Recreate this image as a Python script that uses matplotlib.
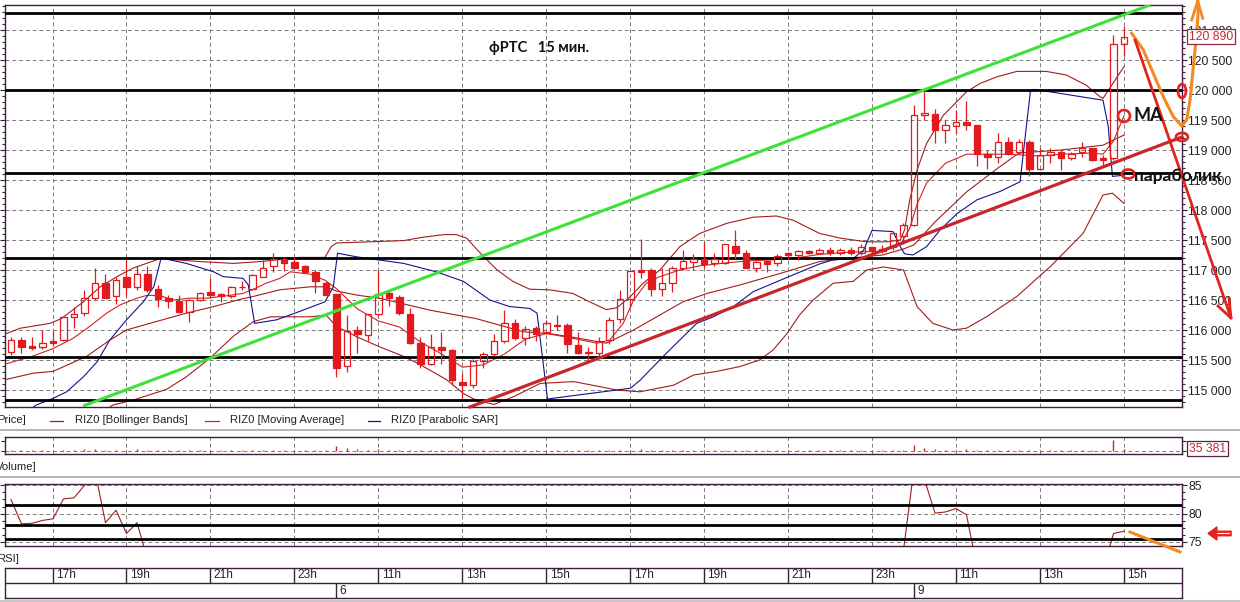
import numpy as np
import matplotlib
matplotlib.use('Agg')
import matplotlib.pyplot as plt
from matplotlib import font_manager as fm
from matplotlib.patches import Ellipse, FancyArrow
from matplotlib.lines import Line2D
from matplotlib.ticker import FixedLocator, MultipleLocator, FuncFormatter

# ---- 15-minute bars of RIZ0 (bar 0 = day 5, 16:00) ----
opens = [115640, 115840, 115740, 115720, 115820, 115830, 116210, 116280, 116530, 116780,
         116560, 116880, 116710, 116930, 116690, 116530, 116490, 116300, 116500, 116630,
         116600, 116570, 116720, 116680, 116890, 117070, 117190, 117130, 117070, 116970,
         116780, 116600, 115400, 116000, 115910, 116260, 116610, 116550, 116270, 115780,
         115430, 115710, 115670, 115140, 115090, 115480, 115600, 115810, 116110, 115860,
         116040, 115970, 116090, 116090, 115750, 115630, 115620, 115830, 116180, 116510,
         117000, 117000, 116680, 116780, 117030, 117140, 117190, 117120, 117110, 117400,
         117290, 117040, 117150, 117110, 117280, 117250, 117310, 117290, 117330, 117290,
         117330, 117290, 117380, 117350, 117390, 117570, 117750, 119590, 119600, 119340,
         119400, 119470, 119420, 118940, 118890, 119140, 118960, 119140, 118680, 118920,
         118960, 118860, 118970, 119030, 118860, 118860, 120770]
highs = [115880, 115880, 115890, 116000, 115990, 116230, 116390, 116670, 117030, 116940,
         116890, 117190, 117070, 117060, 116750, 116580, 116580, 116510, 116640, 116860,
         116620, 116730, 116810, 116940, 117170, 117290, 117220, 117210, 117080, 117000,
         116810, 116600, 116250, 116070, 116260, 117000, 116670, 116580, 116360, 115880,
         115940, 115970, 115680, 115280, 115510, 115640, 115940, 116340, 116190, 116060,
         116070, 116170, 116250, 116120, 115960, 115720, 115890, 116220, 116670, 116980,
         117510, 117030, 117030, 117070, 117330, 117270, 117470, 117280, 117440, 117660,
         117330, 117150, 117170, 117260, 117300, 117330, 117340, 117360, 117390, 117360,
         117380, 117440, 117390, 117420, 117640, 117780, 119750, 120000, 119680, 119500,
         119670, 119810, 119420, 119000, 119280, 119220, 119190, 119160, 119030, 119030,
         119000, 118970, 119140, 119040, 118920, 120920, 121060]
lows = [115580, 115610, 115670, 115680, 115730, 115820, 116040, 116230, 116500, 116540,
        116440, 116570, 116670, 116640, 116380, 116360, 116280, 116130, 116490, 116530,
        116470, 116530, 116670, 116670, 116880, 116970, 116990, 117040, 116960, 116620,
        116580, 115220, 115300, 115620, 115810, 116230, 116400, 116250, 115770, 115360,
        115420, 115440, 115080, 114860, 115030, 115360, 115560, 115790, 115840, 115750,
        115810, 115940, 116000, 115610, 115600, 115470, 115560, 115770, 116120, 116390,
        116860, 116570, 116570, 116640, 117000, 117000, 117030, 117060, 117100, 117180,
        117040, 116970, 116970, 117060, 117190, 117170, 117270, 117260, 117250, 117250,
        117250, 117250, 117250, 117280, 117330, 117440, 117740, 119500, 119120, 119120,
        119280, 119340, 118730, 118680, 118780, 118920, 118940, 118570, 118660, 118780,
        118670, 118830, 118890, 118810, 118750, 118840, 120570]
closes = [115840, 115710, 115700, 115790, 115790, 116210, 116260, 116530, 116780, 116540,
          116840, 116710, 116930, 116670, 116510, 116480, 116300, 116500, 116610, 116580,
          116560, 116710, 116710, 116920, 117040, 117190, 117120, 117040, 116970, 116810,
          116590, 115370, 115990, 115930, 116260, 116600, 116540, 116280, 115780, 115430,
          115720, 115660, 115160, 115090, 115480, 115600, 115810, 116110, 115860, 116010,
          115940, 116110, 116070, 115770, 115610, 115610, 115820, 116170, 116510, 116980,
          116970, 116680, 116780, 117040, 117150, 117190, 117100, 117190, 117430, 117280,
          117040, 117140, 117100, 117240, 117250, 117320, 117290, 117340, 117290, 117330,
          117290, 117380, 117340, 117320, 117620, 117750, 119590, 119610, 119340, 119410,
          119460, 119410, 118930, 118880, 119140, 118930, 119140, 118680, 118920, 118960,
          118860, 118940, 119030, 118830, 118830, 120770, 120890]
volumes = [12000, 9000, 8000, 10000, 9000, 15000, 14000, 22000, 30000, 18000,
           12000, 16000, 20000, 14000, 12000, 10000, 11000, 9000, 8000, 9000,
           7000, 8000, 6000, 9000, 10000, 8000, 7000, 6000, 8000, 10000,
           12000, 78000, 40000, 20000, 16000, 22000, 12000, 14000, 18000, 16000,
           12000, 10000, 14000, 16000, 15000, 10000, 9000, 11000, 8000, 7000,
           9000, 10000, 8000, 12000, 9000, 8000, 9000, 12000, 16000, 18000,
           20000, 12000, 10000, 9000, 11000, 8000, 9000, 7000, 10000, 12000,
           9000, 7000, 6000, 7000, 6000, 5000, 6000, 5000, 6000, 5000,
           6000, 7000, 6000, 5000, 12000, 14000, 105000, 45000, 22000, 18000,
           16000, 20000, 18000, 14000, 12000, 10000, 9000, 12000, 10000, 9000,
           8000, 9000, 10000, 8000, 9000, 195000, 35381]
# RSI only shows where it is above ~74 (panel is zoomed); NaN = not visible
rsi_vals = ([82.5, 78.2, 78.3, 78.8, 79.1, 82.6, 82.8, 85.0, 87.5, 78.4,
             80.6, 76.5, 78.4, 72.0] + [np.nan] * 71
            + [73.5, 88.0, 86.0, 80.1, 80.3, 80.9, 79.8, 70.5] + [np.nan] * 11
            + [70.0, 76.5, 76.9])

# indicator lines (bar position, price)
bb_up_x = [-0.6, 0.9, 3.7, 4.8, 6.9, 8.5, 10.1, 11.6, 12.9, 14.2, 18, 21.2, 23.7, 27.5, 29.9,
           30.5, 31.0, 34.2, 37.4, 39, 41.2, 42.4, 43.4, 44.7, 46.3, 47.8, 49.4, 51.3, 53.5,
           55.1, 56.7, 57.7, 59.0, 60.2, 61.8, 63.7, 65.6, 68.2, 70.7, 72.9, 74.5, 77.0, 79.0,
           81.5, 83.4, 84.7, 85.1, 85.6, 86.3, 87.2, 88.8, 91.0, 92.3, 93.9, 95.8, 98.6, 100.5,
           102.4, 103.7, 104.0, 106.0]
bb_up = [115930, 116030, 116110, 116190, 116470, 116720, 116890, 117030, 117110, 117190,
         117140, 117110, 117140, 117210, 117210, 117390, 117450, 117470, 117490, 117540,
         117590, 117590, 117530, 117280, 117000, 116810, 116680, 116670, 116610, 116470,
         116340, 116370, 116560, 116780, 117000, 117390, 117610, 117780, 117880, 117900,
         117830, 117610, 117530, 117470, 117470, 117500, 117670, 118170, 118670, 119110,
         119580, 119970, 120110, 120220, 120310, 120310, 120250, 120080, 119890, 119860,
         120390]
bb_low_x = [8.0, 9.7, 11.6, 14.8, 16.7, 18.95, 21.2, 23.1, 24.7, 28.5, 30.0, 31.0, 32.9,
            35.1, 37.4, 39.0, 41.5, 43.1, 44.3, 46.0, 48.0, 50.4, 53.6, 57.7, 59.9, 63.1,
            65.0, 67.2, 69.4, 71.3, 72.6, 73.9, 75.1, 76.4, 78.3, 80.2, 81.5, 83.1, 85.0,
            85.6, 86.3, 87.8, 89.7, 91.0, 92.9, 95.8, 99.0, 102.1, 104.0, 104.9, 106.0]
bb_low = [114550, 114750, 114830, 115010, 115220, 115530, 115900, 116140, 116220, 116220,
          116250, 116060, 115890, 115720, 115560, 115420, 115170, 114940, 114830, 114760,
          114900, 115110, 115140, 115000, 114970, 115080, 115250, 115310, 115390, 115500,
          115670, 115940, 116250, 116500, 116780, 116810, 117000, 117050, 117000, 116720,
          116390, 116110, 116000, 116030, 116220, 116560, 117060, 117610, 118250, 118280,
          118110]
bb_mid_x = [-0.6, 2.1, 4.0, 7.2, 9.4, 11.0, 13.2, 16.7, 19.3, 21.8, 23.1, 25.6, 28.5, 30.0,
            31.0, 33.0, 35.1, 39.9, 44.3, 48.8, 51.3, 53.5, 56.7, 59.3, 61.8, 64.0, 66.3,
            69.4, 73.2, 77.0, 80, 83, 85, 86, 88, 91, 94, 96, 100, 104, 106]
bb_mid = [115170, 115280, 115310, 115560, 115830, 116000, 116110, 116280, 116390, 116510,
          116560, 116670, 116720, 116720, 116650, 116580, 116530, 116330, 116190, 115970,
          115940, 115880, 115780, 116000, 116250, 116470, 116610, 116750, 116940, 117140,
          117200, 117250, 117350, 117420, 117800, 118300, 118700, 118950, 119000, 119080,
          119250]
ma_x = [-0.4, 2.0, 4.0, 5.9, 7.5, 9.1, 10.4, 12.0, 13.0, 14.2, 15.5, 17.0, 18.6, 20.5, 22.1,
        23.1, 24.3, 25.6, 26.6, 28.5, 29.9, 31.0, 33, 35, 37, 39, 41, 43, 45, 47, 49, 51, 53,
        55.8, 57, 58.3, 59.3, 60.5, 61.8, 63.7, 65.6, 68.2, 70.1, 72.6, 75.1, 77, 80, 83,
        84.7, 85.6, 86.3, 87.2, 89, 91, 95, 98, 100, 103, 104, 105, 106]
ma = [115440, 115560, 115690, 115860, 116060, 116280, 116420, 116530, 116580, 116570,
      116500, 116530, 116530, 116570, 116610, 116680, 116780, 116860, 116970, 116930,
      116830, 116690, 116350, 116150, 116050, 115800, 115600, 115380, 115420, 115600,
      115850, 115940, 115880, 115780, 115830, 116110, 116500, 116780, 116890, 117000,
      117070, 117120, 117150, 117170, 117210, 117260, 117300, 117310, 117420, 117700,
      118100, 118450, 118780, 118930, 118930, 118900, 118930, 118950, 118930, 119150,
      119570]
sar_x = [1.0, 2.4, 4.0, 5.3, 6.9, 8.2, 9.4, 11.0, 12.6, 13.6, 14.3, 16.7, 19.3, 20.2, 22.1,
         22.6, 23.2, 25.3, 27.5, 29.9, 30.7, 31.1, 32.9, 37.4, 40.5, 43.1, 45.6, 47.5, 49.4,
         50.1, 51.1, 59.0, 59.9, 62.4, 65.3, 66.9, 68.8, 70.7, 72.6, 74.5, 77.0, 78.3, 80.2,
         81.2, 82.0, 84.0, 84.7, 85.1, 85.9, 87.2, 88.5, 90.1, 92.0, 94.2, 96.1, 97.1, 97.5,
         104.0, 104.5, 104.9, 106.0]
sar = [114560, 114750, 114860, 114970, 115220, 115470, 115830, 116170, 116470, 116720,
       117200, 117110, 116970, 116890, 116860, 116750, 116110, 116170, 116310, 116470,
       116720, 117280, 117220, 117110, 116970, 116810, 116500, 116390, 116360, 116280,
       114850, 115030, 115160, 115610, 116110, 116220, 116390, 116640, 116780, 116920,
       117100, 117170, 117190, 117330, 117660, 117640, 117390, 117270, 117250, 117390,
       117670, 117940, 118170, 118310, 118470, 120000, 120010, 119830, 119390, 118560,
       118580]

levels = [121283, 120000, 118617, 117200, 115550, 114833]   # drawn black lines
rsi_levels = [81.6, 78.05, 75.6]
hour_pos = [4, 11, 19, 27, 35, 43, 51, 59, 66, 74, 82, 90, 98, 106]
hour_lab = ['17h', '19h', '21h', '23h', '11h', '13h', '15h',
            '17h', '19h', '21h', '23h', '11h', '13h', '15h']
day_pos = [31, 86]
day_lab = ['6', '9']

# hand-drawn annotations (bar position, price)
green_x, green_y = [6.86, 108.5], [114733, 121418]
redtr_x, redtr_y = [43.71, 111.52], [114717, 119217]
orange_x = [106.73, 107.84, 108.79, 109.74, 110.70, 111.50, 111.97, 112.29, 112.60, 112.92, 113.08, 113.02]
orange_y = [120945, 120667, 120278, 119888, 119555, 119400, 119500, 119833, 120388, 120945, 121333, 121483]
orange_head_x, orange_head_y = [112.45, 113.02, 113.5], [121167, 121483, 121195]
down_x, down_y = [107.05, 116.19], [120833, 116200]
down_head_x, down_head_y = [114.95, 116.19, 116.0], [116400, 116200, 116533]

W, H = 1240, 602
XLIM = (-0.571, 111.524)
RED = '#e3191d'
BBC = '#a41c1c'
MAC = '#d42222'
SARC = '#14148c'
FRAME = '#3c1f3c'
GRIDC = '#7c7c7c'
TXT = '#222222'

avail = {f.name for f in fm.fontManager.ttflist}
if 'Liberation Sans Narrow' in avail:
    NARROW, NS = 'Liberation Sans Narrow', 9.0
else:
    NARROW, NS = 'Liberation Sans', 7.6
TS = NS * 1.16      # axis value labels are a little larger
BOLD = ['Lato', 'DejaVu Sans'] if 'Lato' in avail else ['DejaVu Sans']


def box(x0, y0, x1, y1):
    return [x0 / W, 1 - y1 / H, (x1 - x0) / W, (y1 - y0) / H]


fig = plt.figure(figsize=(W / 100, H / 100), dpi=100)
fig.patch.set_facecolor('white')
ax = fig.add_axes(box(5, 5, 1182, 407))
axv = fig.add_axes(box(5, 437, 1182, 454))
axr = fig.add_axes(box(5, 484, 1182, 546))
axt = fig.add_axes(box(5, 568, 1182, 598))

dash = (0, (4, 3))
for a in (ax, axv, axr, axt):
    a.set_xlim(*XLIM)
    for s in a.spines.values():
        s.set_color(FRAME)
        s.set_linewidth(1.0)
for a in (ax, axv, axr):
    a.xaxis.set_major_locator(FixedLocator(hour_pos))
    a.tick_params(axis='x', length=0, labelbottom=False)
    a.grid(axis='x', linestyle=dash, color=GRIDC, lw=0.7)
    a.set_axisbelow(True)

# ---------------- price panel ----------------
idx = np.arange(len(closes))
o, c = np.array(opens), np.array(closes)
hi, lo = np.array(highs), np.array(lows)
up = c >= o
body_lo = np.minimum(o, c)
body_h = np.maximum(np.abs(c - o), 12)
ax.vlines(idx, lo, body_lo, color=RED, lw=0.9, zorder=5)
ax.vlines(idx, body_lo + body_h, hi, color=RED, lw=0.9, zorder=5)
ax.bar(idx[up], body_h[up], bottom=body_lo[up], width=0.6, facecolor='none',
       edgecolor=RED, lw=0.9, zorder=5)
ax.bar(idx[~up], body_h[~up], bottom=body_lo[~up], width=0.6, facecolor=RED,
       edgecolor=RED, lw=0.9, zorder=5)

ax.plot(bb_up_x, bb_up, color=BBC, lw=0.8, zorder=3)
ax.plot(bb_low_x, bb_low, color=BBC, lw=0.8, zorder=3)
ax.plot(bb_mid_x, bb_mid, color=BBC, lw=0.8, zorder=3)
ax.plot(ma_x, ma, color=MAC, lw=0.8, zorder=3)
ax.plot(sar_x, sar, color=SARC, lw=0.8, zorder=3)
for lv in levels:
    ax.axhline(lv, color='black', lw=2.0, zorder=4)

ax.set_ylim(114716.7, 121416.7)
ax.yaxis.set_major_locator(MultipleLocator(500))
ax.yaxis.set_minor_locator(MultipleLocator(100))
ax.yaxis.set_major_formatter(FuncFormatter(lambda v, p: f"{int(round(v)):,}".replace(',', ' ')))
ax.tick_params(axis='y', which='both', left=True, right=True, labelleft=False,
               labelright=True, direction='out', color=FRAME, width=0.8)
ax.tick_params(axis='y', which='major', length=3.5, pad=1, labelsize=TS, labelcolor=TXT)
ax.tick_params(axis='y', which='minor', length=2)
for t in ax.get_yticklabels():
    t.set_fontfamily(NARROW)
ax.grid(axis='y', which='major', linestyle=dash, color=GRIDC, lw=0.7)

# trend lines and hand drawings
ax.plot(green_x, green_y, color='#3ee03a', lw=2.2, zorder=6, solid_capstyle='butt')
ax.plot(redtr_x, redtr_y, color='#c8262a', lw=2.3, zorder=6, clip_on=False)
ax.plot(orange_x, orange_y, color='#f28a22', lw=2.2, zorder=7, clip_on=False)
ax.plot(orange_head_x, orange_head_y, color='#f28a22', lw=2.0, zorder=7, clip_on=False)
ax.plot(down_x, down_y, color='#e2231f', lw=2.0, zorder=7, clip_on=False)
ax.plot(down_head_x, down_head_y, color='#e2231f', lw=2.0, zorder=7, clip_on=False)
for (ex, ey, ew, eh) in [(106.0, 119567, 1.14, 200), (106.4, 118600, 1.2, 150),
                         (111.52, 119983, 0.76, 230), (111.52, 119217, 1.14, 135)]:
    ax.add_patch(Ellipse((ex, ey), ew, eh, fill=False, edgecolor='#e2231f', lw=1.9,
                         zorder=8, clip_on=False))
ax.text(106.86, 119567, 'МА', family=BOLD, fontweight='bold', fontsize=13,
        color='#111111', va='center', ha='left', zorder=9, clip_on=False)
ax.text(106.95, 118567, 'параболик', family=BOLD, fontweight='bold', fontsize=12.5,
        color='#111111', va='center', ha='left', zorder=9, clip_on=False)
ax.text(45.5, 120700, 'фРТС   15 мин.', family=BOLD, fontweight='bold', fontsize=10.5,
        color='#111111', va='center', ha='left', zorder=9)
ax.text(112.15, 120890, '120 890', family=NARROW, fontsize=TS, color='#c8282c',
        va='center', ha='left', zorder=10, clip_on=False,
        bbox=dict(boxstyle='square,pad=0.15', fc='white', ec='#8a2a4a', lw=0.9))

# ---------------- volume panel ----------------
axv.vlines(idx, 0, volumes, color='#c02828', lw=1.0, zorder=3)
axv.axhline(0, linestyle=dash, color=GRIDC, lw=0.7, zorder=1)
axv.set_ylim(-60000, 240000)
axv.yaxis.set_major_locator(FixedLocator([0, 175000]))
axv.tick_params(axis='y', left=True, right=True, labelleft=False, labelright=False,
                direction='out', length=3, color=FRAME, width=0.8)
axv.text(112.15, 35381, '35 381', family=NARROW, fontsize=TS, color='#c8282c',
         va='center', ha='left', zorder=10, clip_on=False,
         bbox=dict(boxstyle='square,pad=0.15', fc='white', ec='#5a2040', lw=0.9))

# ---------------- RSI panel ----------------
axr.plot(idx, rsi_vals, color=BBC, lw=0.8, zorder=3)
for lv in rsi_levels:
    axr.axhline(lv, color='black', lw=2.0, zorder=4)
axr.set_ylim(74.29, 85.235)
axr.yaxis.set_major_locator(FixedLocator([75, 80, 85]))
axr.yaxis.set_minor_locator(MultipleLocator(1.25))
axr.tick_params(axis='y', which='both', left=True, right=True, labelleft=False,
                labelright=True, direction='out', color=FRAME, width=0.8)
axr.tick_params(axis='y', which='major', length=3.5, pad=1, labelsize=TS, labelcolor=TXT)
axr.tick_params(axis='y', which='minor', length=2)
for t in axr.get_yticklabels():
    t.set_fontfamily(NARROW)
axr.grid(axis='y', which='major', linestyle=dash, color=GRIDC, lw=0.7)
axr.plot([106.57, 111.33], [76.76, 73.24], color='#f28a22', lw=2.2, zorder=7, clip_on=False)
axr.add_patch(FancyArrow(116.2, 76.5, -2.2, 0, width=0.8, head_width=2.3, head_length=0.85,
                         length_includes_head=True, fc='#e2231f', ec='#e2231f', lw=1.0,
                         zorder=8, clip_on=False))
axr.plot([114.9, 116.0], [76.5, 76.5], color='white', lw=0.8, zorder=9, clip_on=False)

# ---------------- time axis ----------------
axt.set_ylim(0, 2)
axt.set_xticks([])
axt.set_yticks([])
axt.axhline(1, color=FRAME, lw=1.0)
axt.vlines(hour_pos, 1, 2, color=FRAME, lw=1.0)
axt.vlines(day_pos, 0, 1, color=FRAME, lw=1.0)
for p, s in zip(hour_pos, hour_lab):
    axt.text(p + 0.3, 1.5, s, family=NARROW, fontsize=NS + 1, color=TXT, va='center', ha='left')
for p, s in zip(day_pos, day_lab):
    axt.text(p + 0.3, 0.5, s, family=NARROW, fontsize=NS + 1, color=TXT, va='center', ha='left')

# ---------------- captions, legend, separators ----------------
def ftext(x, y, s, **kw):
    fig.text(x / W, 1 - y / H, s, family=NARROW, fontsize=NS + 0.5, color=TXT,
             va='center', ha='left', **kw)

ftext(-3, 420, 'Price]')
ftext(75, 420, 'RIZ0 [Bollinger Bands]')
ftext(230, 420, 'RIZ0 [Moving Average]')
ftext(391, 420, 'RIZ0 [Parabolic SAR]')
ftext(-4, 467, 'Volume]')
ftext(-3, 559, 'RSI]')
for x0, x1, col in [(50, 63, BBC), (205, 219, MAC), (368, 380, SARC)]:
    fig.add_artist(Line2D([x0 / W, x1 / W], [1 - 421 / H] * 2, color=col, lw=0.9))
for yy in (430, 477):
    fig.add_artist(Line2D([0, 1], [1 - yy / H] * 2, color='#a8a8a8', lw=1.2))
fig.add_artist(Line2D([0, 1], [1 - 600.5 / H] * 2, color='#c8c8c8', lw=1.5))

fig.savefig('out.png', dpi=100, facecolor='white')
